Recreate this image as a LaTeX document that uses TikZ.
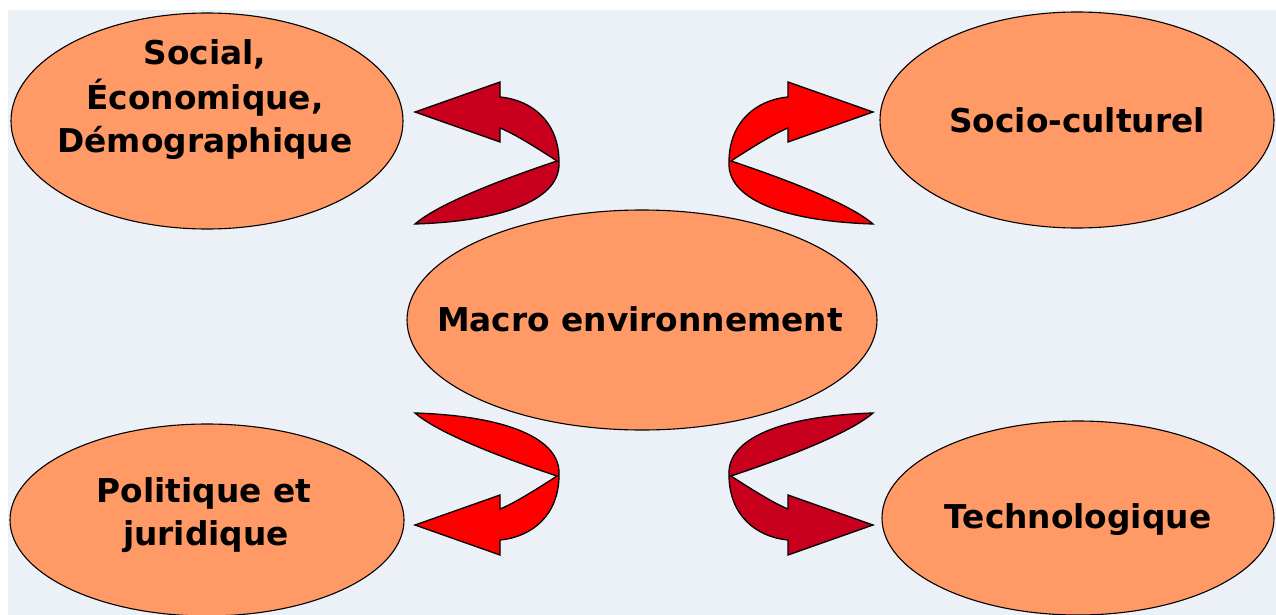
\documentclass[tikz,border=0pt]{standalone}
\usepackage{fontspec}
\usetikzlibrary{shapes.geometric}
\newfontfamily\dvsans{DejaVu Sans}
\definecolor{bgblue}{RGB}{236,241,248}
\definecolor{ellfill}{RGB}{255,153,102}
\definecolor{darkred}{RGB}{200,0,30}
\definecolor{brightred}{RGB}{255,0,0}
\tikzset{
  ell/.style={ellipse, draw=black, line width=1.1pt, fill=ellfill, inner sep=0pt},
  lbl/.style={anchor=base, inner sep=0pt, font=\dvsans\bfseries\fontsize{32.8}{44}\selectfont},
  bentarrow/.style={draw=black, line width=1.3pt, line join=miter},
  bentshape/.style={insert path={(415,112) -- (500,82) -- (500,97)
      .. controls (532,100) and (559,122) .. (559,162)
      .. controls (561,198) and (508,221) .. (415,224)
      .. controls (438,204) and (500,180) .. (557,161)
      .. controls (540,150) and (515,134) .. (500,128)
      -- (500,142) -- cycle}}
}
\begin{document}
\begin{tikzpicture}[x=1pt,y=-1pt]
\useasboundingbox (0,0) rectangle (1276,615);
\fill[white] (0,0) rectangle (1276,615);
\fill[bgblue] (8,10) rectangle (1276,615);

% ellipses
\node[ell, minimum width=392pt, minimum height=216pt] (soc) at (207,121) {};
\node[ell, minimum width=394pt, minimum height=216pt] (cult) at (1077,120) {};
\node[ell, minimum width=470pt, minimum height=220pt] (macro) at (642,320) {};
\node[ell, minimum width=394pt, minimum height=192pt] (pol) at (207,520) {};
\node[ell, minimum width=392pt, minimum height=194pt] (tech) at (1078,518) {};

% labels
\node[lbl] (soc1) at (205,65) {Social,};
\node[lbl] (soc2) at (205,110) {Économique,};
\node[lbl] (soc3) at (205,153) {Démographique};
\node[lbl] (cultl) at (1077,132) {Socio-culturel};
\node[lbl] (macrol) at (640,331) {Macro environnement};
\node[lbl] (pol1) at (204,502) {Politique et};
\node[lbl] (pol2) at (206,545) {juridique};
\node[lbl] (techl) at (1078,528) {Technologique};

% bent arrows
\draw[bentarrow, fill=darkred, bentshape];
\begin{scope}[xshift=1288pt, xscale=-1]
  \draw[bentarrow, fill=brightred, bentshape];
\end{scope}
\begin{scope}[yshift=-637pt, yscale=-1]
  \draw[bentarrow, fill=brightred, bentshape];
\end{scope}
\begin{scope}[xshift=1288pt, yshift=-637pt, xscale=-1, yscale=-1]
  \draw[bentarrow, fill=darkred, bentshape];
\end{scope}
\end{tikzpicture}
\end{document}
